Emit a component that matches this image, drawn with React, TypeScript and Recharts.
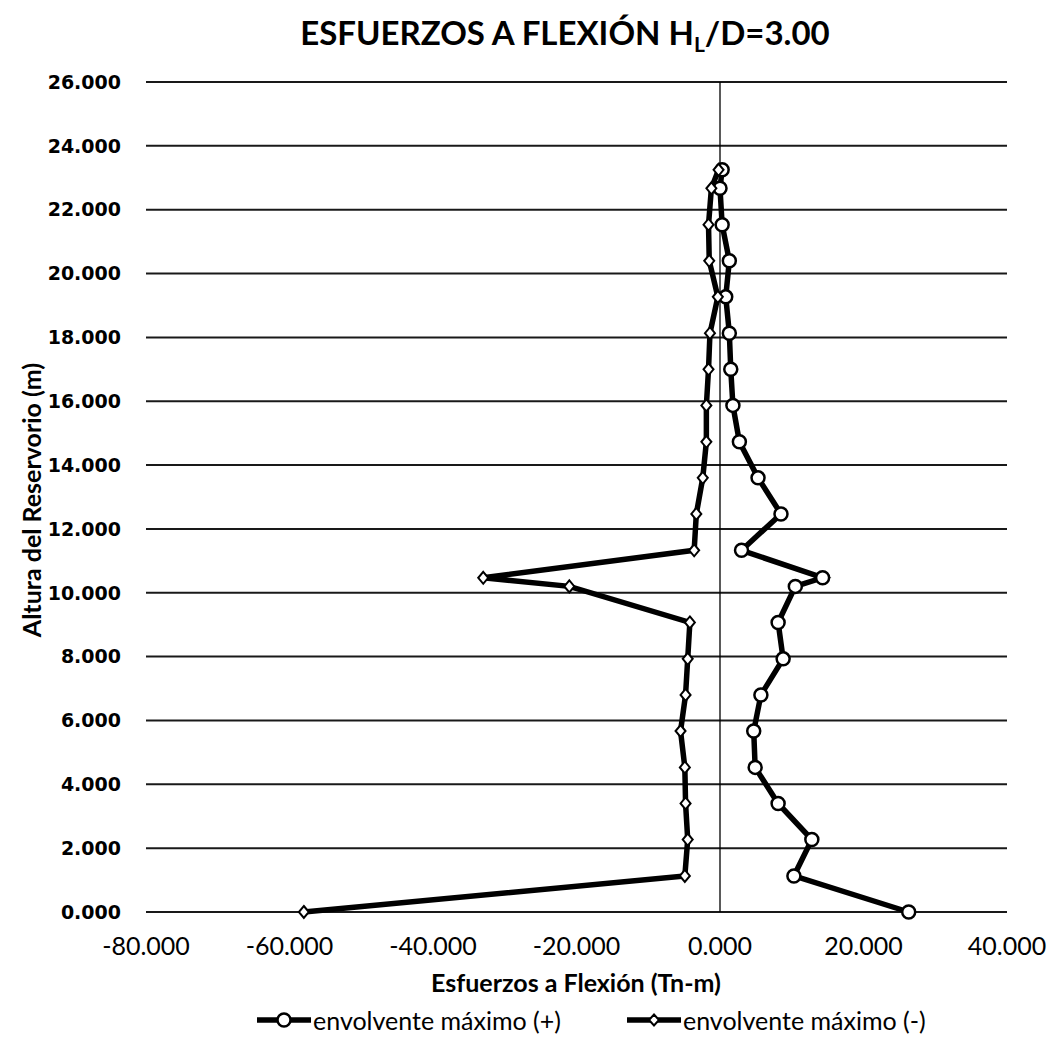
import {
    ScatterChart,
    Scatter,
    XAxis,
    YAxis,
    CartesianGrid,
    ReferenceLine,
} from 'recharts';

// alturas (m) de cada punto de la envolvente
const heights = [
    0, 1.13, 2.27, 3.4, 4.53, 5.67, 6.8, 7.93, 9.07, 10.2, 10.47, 11.33,
    12.47, 13.6, 14.73, 15.87, 17.0, 18.13, 19.27, 20.4, 21.53, 22.67, 23.25,
];

const positiveMoment = [
    26.3, 10.3, 12.8, 8.1, 4.9, 4.7, 5.7, 8.8, 8.1, 10.5, 14.3, 3.0,
    8.5, 5.3, 2.7, 1.8, 1.5, 1.3, 0.8, 1.3, 0.3, 0.0, 0.3,
];

const negativeMoment = [
    -58.0, -4.9, -4.5, -4.8, -4.9, -5.5, -4.8, -4.5, -4.2, -21.0, -33.0, -3.6,
    -3.3, -2.4, -1.9, -1.9, -1.6, -1.4, -0.3, -1.5, -1.6, -1.2, -0.2,
];

const xTicks = [-80, -60, -40, -20, 0, 20, 40];
const yTicks = [0, 2, 4, 6, 8, 10, 12, 14, 16, 18, 20, 22, 24, 26];

const seriesNames = ['envolvente máximo (+)', 'envolvente máximo (-)'];

const positiveData = heights.map((h, i) => ({ x: positiveMoment[i], y: h }));
const negativeData = heights.map((h, i) => ({ x: negativeMoment[i], y: h }));

const calibri = 'Lato, "Open Sans", sans-serif';

function CircleMark(props: any) {
    const { cx, cy } = props;
    if (cx == null || cy == null) return null;
    return <circle cx={cx} cy={cy} r={6.5} fill="#fff" stroke="#000" strokeWidth={2.5} />;
}

function DiamondMark(props: any) {
    const { cx, cy } = props;
    if (cx == null || cy == null) return null;
    const s = 6;
    return (
        <path
            d={`M${cx},${cy - s}L${cx + s - 1},${cy}L${cx},${cy + s}L${cx - s + 1},${cy}Z`}
            fill="#fff"
            stroke="#000"
            strokeWidth={2}
        />
    );
}

function LegendIcon({ kind }: { kind: 'circle' | 'diamond' }) {
    return (
        <svg width={54} height={18} style={{ marginRight: 2 }}>
            <line x1={0} y1={9} x2={54} y2={9} stroke="#000" strokeWidth={5.5} />
            {kind === 'circle' ? (
                <circle cx={27} cy={9} r={6.5} fill="#fff" stroke="#000" strokeWidth={2.5} />
            ) : (
                <path d="M27,3.5L32,9L27,14.5L22,9Z" fill="#fff" stroke="#000" strokeWidth={2} />
            )}
        </svg>
    );
}

export default function App() {
    return (
        <div
            style={{
                position: 'absolute',
                left: 0,
                top: 0,
                width: 1049,
                height: 1045,
                background: '#fff',
                fontFamily: calibri,
            }}
        >
            <div
                style={{
                    position: 'absolute',
                    top: 12,
                    left: 0,
                    width: 1130,
                    textAlign: 'center',
                    fontSize: 33,
                    fontWeight: 700,
                    color: '#000',
                }}
            >
                ESFUERZOS A FLEXIÓN H
                <sub style={{ fontSize: 21, verticalAlign: -7 }}>L</sub>
                /D=3.00
            </div>

            <ScatterChart
                width={1049}
                height={1045}
                margin={{ top: 82, right: 42, bottom: 93, left: 60 }}
            >
                <CartesianGrid
                    vertical={false}
                    stroke="#000"
                    strokeWidth={2}
                    strokeOpacity={0.9}
                />
                <XAxis
                    type="number"
                    dataKey="x"
                    domain={[-80, 40]}
                    ticks={xTicks}
                    tickFormatter={(v: number) => v.toFixed(3)}
                    axisLine={false}
                    tickLine={false}
                    tickSize={0}
                    tickMargin={25}
                    height={40}
                    tick={{ fill: '#000', fontSize: 25, fontFamily: calibri }}
                />
                <YAxis
                    type="number"
                    dataKey="y"
                    domain={[0, 26]}
                    ticks={yTicks}
                    tickFormatter={(v: number) => v.toFixed(3)}
                    axisLine={false}
                    tickLine={false}
                    tickSize={0}
                    tickMargin={25}
                    width={86}
                    tick={{
                        fill: '#000',
                        fontSize: 19,
                        fontWeight: 700,
                        fontFamily: '"DejaVu Sans", Verdana, sans-serif',
                    }}
                />
                <ReferenceLine x={0} stroke="#000" strokeWidth={1.3} />
                <Scatter
                    name={seriesNames[0]}
                    data={positiveData}
                    line={{ stroke: '#000', strokeWidth: 5.5 }}
                    lineType="joint"
                    shape={<CircleMark />}
                    isAnimationActive={false}
                />
                <Scatter
                    name={seriesNames[1]}
                    data={negativeData}
                    line={{ stroke: '#000', strokeWidth: 5.5 }}
                    lineType="joint"
                    shape={<DiamondMark />}
                    isAnimationActive={false}
                />
            </ScatterChart>

            <div
                style={{
                    position: 'absolute',
                    left: 0,
                    top: 967,
                    width: 1152,
                    textAlign: 'center',
                    fontSize: 25,
                    fontWeight: 700,
                }}
            >
                Esfuerzos a Flexión (Tn-m)
            </div>

            <div
                style={{
                    position: 'absolute',
                    left: 31,
                    top: 500,
                    transform: 'translate(-50%, -50%) rotate(-90deg)',
                    whiteSpace: 'nowrap',
                    fontSize: 25,
                    fontWeight: 700,
                }}
            >
                Altura del Reservorio (m)
            </div>

            <div
                style={{
                    position: 'absolute',
                    left: 257,
                    top: 1005,
                    display: 'flex',
                    alignItems: 'center',
                    fontSize: 25,
                    whiteSpace: 'nowrap',
                }}
            >
                <LegendIcon kind="circle" />
                <span>{seriesNames[0]}</span>
                <span style={{ width: 66 }} />
                <LegendIcon kind="diamond" />
                <span>{seriesNames[1]}</span>
            </div>
        </div>
    );
}
